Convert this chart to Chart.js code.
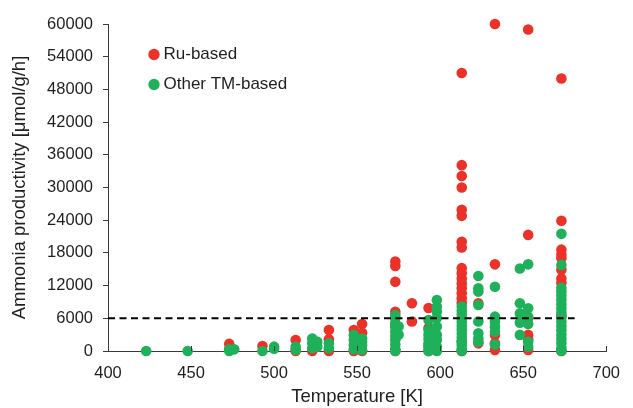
<!DOCTYPE html>
<html>
<head>
<meta charset="utf-8">
<script src="https://cdn.jsdelivr.net/npm/chart.js@4/dist/chart.umd.min.js"></script>
<style>
  html, body { margin: 0; padding: 0; background: #fff; }
  #wrap { width: 633px; height: 408px; position: relative; }
</style>
</head>
<body>
<div id="wrap"><canvas id="c" width="633" height="408"></canvas></div>
<script>
// ---- Data ----
const seriesNames = ['Ru-based', 'Other TM-based'];

// Ru-based catalysts: temperature [K] and ammonia productivity [µmol/g/h]
const ruTemps = [
  473, 473,
  493,
  513, 513,
  523,
  533, 533, 533,
  548, 548,
  553, 553, 553,
  573, 573, 573, 573, 573, 573,
  583, 583,
  593, 593, 593, 593,
  613, 613, 613, 613, 613, 613, 613, 613, 613, 613, 613, 613, 613, 613, 613, 613, 613, 613,
  623, 623,
  633, 633, 633, 633, 633,
  653, 653, 653, 653, 653, 653,
  673, 673, 673, 673, 673, 673, 673, 673, 673, 673
];
const ruValues = [
  1300, 300,
  900,
  2000, 0,
  0,
  3850, 2150, 0,
  3850, 0,
  4950, 3350, 0,
  16400, 15600, 12700, 7200, 4800, 0,
  8750, 5400,
  7900, 4200, 1000, 0,
  51000, 34100, 32100, 30000, 25900, 24800, 20050, 19000, 15200, 14250, 13300, 12400, 11500, 10600, 9700, 8800, 1700, 0,
  8750, 1400,
  60000, 15900, 2950, 1400, 200,
  59000, 21300, 6000, 2950, 2150, 200,
  50000, 23900, 18600, 17700, 17000, 14900, 13300, 12500, 6500, 0
];

// Other transition-metal-based catalysts
const tmTemps = [
  423, 448,
  473, 473, 476,
  493,
  500, 500,
  513, 513,
  523, 523, 523, 526, 526,
  533, 533,
  548, 548, 548, 548,
  553, 553, 553, 553,
  573, 573, 573, 573, 573, 573, 573, 573, 573, 573, 575, 575,
  593, 593, 593, 593, 593, 593, 593,
  598, 598, 598, 598, 598, 598, 598, 598, 598,
  613, 613, 613, 613, 613, 613, 613, 613, 613, 613, 613, 613, 613,
  623, 623, 623, 623, 623, 623, 623, 623,
  633, 633, 633, 633, 633, 633,
  648, 648, 648, 648, 648,
  653, 653, 653, 653, 653, 653,
  673, 673, 673, 673, 673, 673, 673, 673, 673, 673, 673, 673, 673, 673, 673, 673, 673, 673
];
const tmValues = [
  0, 0,
  300, 0, 300,
  0,
  800, 400,
  800, 200,
  2300, 1400, 500, 1700, 800,
  1400, 500,
  2950, 2000, 1100, 300,
  2300, 1100, 200, 1700,
  6600, 6000, 5200, 4400, 3600, 2800, 2000, 1200, 400, 0, 4500, 3000,
  5700, 3850, 3000, 2200, 1400, 600, 0,
  9350, 8100, 7200, 6050, 4500, 2950, 2000, 800, 0,
  8150, 7400, 6700, 6000, 5300, 4600, 3900, 3200, 2500, 1800, 1100, 400, 0,
  13750, 11500, 10900, 8450, 5400, 3250, 2300, 1700,
  11800, 6300, 5400, 4450, 3550, 1200,
  15150, 8750, 6900, 5200, 2950,
  15900, 7850, 6300, 4950, 1700, 800,
  21500, 15800, 11600, 10900, 10200, 9400, 8600, 7800, 7000, 6200, 5400, 4600, 3800, 3000, 2200, 1400, 600, 0
];

// Reference (dashed) line
const refLineTemps = [400, 681];
const refLineValues = [6000, 6000];

// Axis ticks
const xTicks = [400, 450, 500, 550, 600, 650, 700];
const yTicks = [0, 6000, 12000, 18000, 24000, 30000, 36000, 42000, 48000, 54000, 60000];

const xTitle = 'Temperature [K]';
const yTitle = 'Ammonia productivity [μmol/g/h]';

// ---- Build ----
const zip = (xs, ys) => xs.map((x, i) => ({ x: x, y: ys[i] }));
const RED = 'rgb(236,49,41)';
const GREEN = 'rgb(31,176,90)';
const INK = '#1f1f1f';

const innerXTicks = {
  id: 'innerXTicks',
  afterDatasetsDraw(chart) {
    const xs = chart.scales.x, ys = chart.scales.y;
    const ctx = chart.ctx;
    const y0 = ys.getPixelForValue(0);
    ctx.save();
    ctx.strokeStyle = '#3a3a3a';
    ctx.lineWidth = 1;
    xTicks.forEach(t => {
      if (t === xTicks[0]) return;
      const px = Math.round(xs.getPixelForValue(t)) + 0.5;
      ctx.beginPath();
      ctx.moveTo(px, y0);
      ctx.lineTo(px, y0 - 5);
      ctx.stroke();
    });
    ctx.restore();
  }
};

const legendShift = {
  id: 'legendShift',
  afterLayout(chart) {
    if (chart.legend) {
      chart.legend.left += 32;
      chart.legend.top += 33;
    }
  }
};

new Chart(document.getElementById('c'), {
  type: 'scatter',
  data: {
    datasets: [
      {
        label: seriesNames[0],
        data: zip(ruTemps, ruValues),
        backgroundColor: RED,
        borderColor: RED,
        borderWidth: 0,
        pointRadius: 5.3,
        pointHoverRadius: 5.3,
        clip: false,
        order: 3
      },
      {
        label: seriesNames[1],
        data: zip(tmTemps, tmValues),
        backgroundColor: GREEN,
        borderColor: GREEN,
        borderWidth: 0,
        pointRadius: 5.3,
        pointHoverRadius: 5.3,
        clip: false,
        order: 2
      },
      {
        type: 'line',
        label: 'ref',
        data: zip(refLineTemps, refLineValues),
        borderColor: '#000',
        borderWidth: 2,
        borderDash: [7, 4.5],
        pointRadius: 0,
        fill: false,
        order: 1
      }
    ]
  },
  options: {
    responsive: false,
    animation: false,
    devicePixelRatio: 1,
    layout: { padding: { left: 0, right: 16, top: 24, bottom: 0 } },
    plugins: {
      tooltip: { enabled: false },
      legend: {
        position: 'chartArea',
        align: 'start',
        labels: {
          usePointStyle: true,
          pointStyle: 'circle',
          boxWidth: 2,
          boxHeight: 8,
          padding: 13,
          color: INK,
          font: { family: 'Liberation Sans, Arial, sans-serif', size: 17 },
          filter: (item) => item.datasetIndex < 2,
          sort: (a, b) => a.datasetIndex - b.datasetIndex
        }
      }
    },
    scales: {
      x: {
        type: 'linear',
        min: 400,
        max: 700,
        afterBuildTicks: (s) => { s.ticks = xTicks.map(v => ({ value: v })); },
        afterFit: (s) => { s.height = 57; },
        grid: { drawOnChartArea: false, drawTicks: false },
        border: { display: true, color: '#3a3a3a', width: 1 },
        ticks: {
          padding: 13,
          color: INK,
          font: { family: 'Liberation Sans, Arial, sans-serif', size: 16.5 },
          callback: (v) => String(v)
        },
        title: {
          display: true,
          text: xTitle,
          color: INK,
          padding: { top: 0, bottom: 0 },
          font: { family: 'Liberation Sans, Arial, sans-serif', size: 18.5 }
        }
      },
      y: {
        type: 'linear',
        min: 0,
        max: 60000,
        afterBuildTicks: (s) => { s.ticks = yTicks.map(v => ({ value: v })); },
        afterFit: (s) => { s.width = 108; },
        grid: { drawOnChartArea: false, drawTicks: true, tickLength: 5, color: '#3a3a3a' },
        border: { display: true, color: '#3a3a3a', width: 1 },
        ticks: {
          padding: 10,
          color: INK,
          font: { family: 'Liberation Sans, Arial, sans-serif', size: 16.5 },
          callback: (v) => String(v)
        },
        title: {
          display: true,
          text: yTitle,
          color: INK,
          padding: { top: 9, bottom: 0 },
          font: { family: 'Liberation Sans, Arial, sans-serif', size: 18.5 }
        }
      }
    }
  },
  plugins: [innerXTicks, legendShift]
});
</script>
</body>
</html>
